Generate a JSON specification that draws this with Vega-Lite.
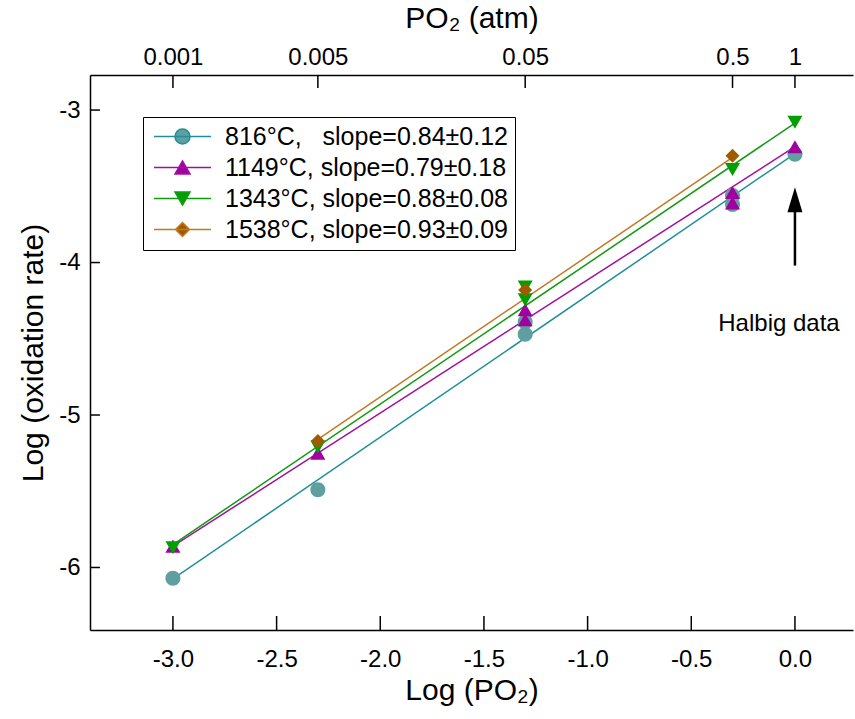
{
  "$schema": "https://vega.github.io/schema/vega-lite/v6.json",
  "width": 763,
  "height": 555,
  "autosize": {"type": "none"},
  "padding": {"left": 90, "top": 75, "right": 2, "bottom": 89},
  "background": "white",
  "config": {
    "view": {"stroke": null},
    "font": "Liberation Sans",
    "axis": {
      "domainColor": "black",
      "domainWidth": 1.5,
      "ticks": false,
      "grid": false,
      "labelColor": "black",
      "titleColor": "black",
      "labelFont": "Liberation Sans",
      "titleFont": "Liberation Sans",
      "labelFontSize": 24,
      "titleFontSize": 30,
      "titleFontWeight": "normal"
    },
    "legend": {
      "labelFont": "Liberation Sans",
      "labelFontSize": 25,
      "labelColor": "black",
      "labelLimit": 1000
    }
  },
  "datasets": {
    "fits": [
      {"series": "816°C,\u2007 slope=0.84±0.12", "logp": -3.0, "rate": -6.075},
      {"series": "816°C,\u2007 slope=0.84±0.12", "logp": 0.0, "rate": -3.285},
      {"series": "1149°C, slope=0.79±0.18", "logp": -3.0, "rate": -5.86},
      {"series": "1149°C, slope=0.79±0.18", "logp": 0.0, "rate": -3.24},
      {"series": "1343°C, slope=0.88±0.08", "logp": -3.0, "rate": -5.85},
      {"series": "1343°C, slope=0.88±0.08", "logp": 0.0, "rate": -3.085},
      {"series": "1538°C, slope=0.93±0.09", "logp": -2.30103, "rate": -5.16},
      {"series": "1538°C, slope=0.93±0.09", "logp": -0.30103, "rate": -3.31}
    ],
    "points": [
      {"series": "816°C,\u2007 slope=0.84±0.12", "logp": -3.0, "rate": -6.07},
      {"series": "816°C,\u2007 slope=0.84±0.12", "logp": -2.30103, "rate": -5.49},
      {"series": "816°C,\u2007 slope=0.84±0.12", "logp": -1.30103, "rate": -4.39},
      {"series": "816°C,\u2007 slope=0.84±0.12", "logp": -1.30103, "rate": -4.47},
      {"series": "816°C,\u2007 slope=0.84±0.12", "logp": -0.30103, "rate": -3.56},
      {"series": "816°C,\u2007 slope=0.84±0.12", "logp": -0.30103, "rate": -3.62},
      {"series": "816°C,\u2007 slope=0.84±0.12", "logp": 0.0, "rate": -3.29},
      {"series": "1149°C, slope=0.79±0.18", "logp": -3.0, "rate": -5.86},
      {"series": "1149°C, slope=0.79±0.18", "logp": -2.30103, "rate": -5.25},
      {"series": "1149°C, slope=0.79±0.18", "logp": -1.30103, "rate": -4.31},
      {"series": "1149°C, slope=0.79±0.18", "logp": -1.30103, "rate": -4.375},
      {"series": "1149°C, slope=0.79±0.18", "logp": -0.30103, "rate": -3.54},
      {"series": "1149°C, slope=0.79±0.18", "logp": -0.30103, "rate": -3.61},
      {"series": "1149°C, slope=0.79±0.18", "logp": 0.0, "rate": -3.24},
      {"series": "1343°C, slope=0.88±0.08", "logp": -3.0, "rate": -5.87},
      {"series": "1343°C, slope=0.88±0.08", "logp": -2.30103, "rate": -5.21},
      {"series": "1343°C, slope=0.88±0.08", "logp": -1.30103, "rate": -4.16},
      {"series": "1343°C, slope=0.88±0.08", "logp": -1.30103, "rate": -4.245},
      {"series": "1343°C, slope=0.88±0.08", "logp": -0.30103, "rate": -3.39},
      {"series": "1343°C, slope=0.88±0.08", "logp": 0.0, "rate": -3.08},
      {"series": "1538°C, slope=0.93±0.09", "logp": -2.30103, "rate": -5.17},
      {"series": "1538°C, slope=0.93±0.09", "logp": -1.30103, "rate": -4.18},
      {"series": "1538°C, slope=0.93±0.09", "logp": -0.30103, "rate": -3.30}
    ],
    "ticks": [
      {"xa": -3.0, "xb": -3.0, "ya": -6.41, "yb": -6.318},
      {"xa": -2.5, "xb": -2.5, "ya": -6.41, "yb": -6.318},
      {"xa": -2.0, "xb": -2.0, "ya": -6.41, "yb": -6.318},
      {"xa": -1.5, "xb": -1.5, "ya": -6.41, "yb": -6.318},
      {"xa": -1.0, "xb": -1.0, "ya": -6.41, "yb": -6.318},
      {"xa": -0.5, "xb": -0.5, "ya": -6.41, "yb": -6.318},
      {"xa": 0.0, "xb": 0.0, "ya": -6.41, "yb": -6.318},
      {"xa": -3.0, "xb": -3.0, "ya": -2.77, "yb": -2.855},
      {"xa": -2.30103, "xb": -2.30103, "ya": -2.77, "yb": -2.855},
      {"xa": -1.30103, "xb": -1.30103, "ya": -2.77, "yb": -2.855},
      {"xa": -0.30103, "xb": -0.30103, "ya": -2.77, "yb": -2.855},
      {"xa": 0.0, "xb": 0.0, "ya": -2.77, "yb": -2.855},
      {"xa": -3.40, "xb": -3.352, "ya": -6.0, "yb": -6.0},
      {"xa": -3.40, "xb": -3.352, "ya": -5.0, "yb": -5.0},
      {"xa": -3.40, "xb": -3.352, "ya": -4.0, "yb": -4.0},
      {"xa": -3.40, "xb": -3.352, "ya": -3.0, "yb": -3.0}
    ],
    "arrow": [{"logp": 0.0, "from": -4.02, "to": -3.66, "tip": -3.588}],
    "note": [{"logp": -0.077, "rate": -4.40, "text": "Halbig data"}]
  },
  "layer": [
    {
      "data": {"name": "fits"},
      "mark": {"type": "line", "strokeWidth": 1.5},
      "encoding": {
        "x": {
          "field": "logp", "type": "quantitative",
          "scale": {"domain": [-3.40, 0.28], "nice": false, "zero": false},
          "axis": {
            "orient": "bottom",
            "values": [-3, -2.5, -2, -1.5, -1, -0.5, 0],
            "labelExpr": "(datum.value < -0.01 ? '-' : '') + format(abs(datum.value), '.1f')",
            "labelPadding": 17,
            "title": "Log (PO₂)",
            "titlePadding": 4
          }
        },
        "y": {
          "field": "rate", "type": "quantitative",
          "scale": {"domain": [-6.41, -2.77], "nice": false, "zero": false},
          "axis": {
            "orient": "left",
            "values": [-6, -5, -4, -3],
            "labelExpr": "'-' + format(abs(datum.value), 'd')",
            "labelPadding": 10,
            "title": "Log (oxidation rate)",
            "titlePadding": 10
          }
        },
        "color": {
          "field": "series", "type": "nominal",
          "scale": {
            "domain": ["816°C,\u2007 slope=0.84±0.12", "1149°C, slope=0.79±0.18", "1343°C, slope=0.88±0.08", "1538°C, slope=0.93±0.09"],
            "range": ["#1f8f9b", "#a010a0", "#109a10", "#c07a22"]
          },
          "legend": {
            "title": null,
            "orient": "none",
            "legendX": 53,
            "legendY": 42,
            "direction": "vertical",
            "padding": 7,
            "rowPadding": 5,
            "strokeColor": "black",
            "fillColor": "white",
            "symbolSize": 225,
            "symbolStrokeWidth": 1.5,
            "symbolOpacity": 1,
            "symbolOffset": 20,
            "labelOffset": 30
          }
        }
      }
    },
    {
      "data": {"name": "points"},
      "mark": {"type": "point", "filled": true, "opacity": 1, "size": 225},
      "encoding": {
        "x": {
          "field": "logp", "type": "quantitative",
          "scale": {"domain": [-3.40, 0.28], "nice": false, "zero": false},
          "axis": {
            "orient": "top",
            "values": [-3, -2.30103, -1.30103, -0.30103, 0],
            "labelExpr": "datum.value < -2.9 ? '0.001' : datum.value < -2 ? '0.005' : datum.value < -1 ? '0.05' : datum.value < -0.1 ? '0.5' : '1'",
            "labelPadding": 6,
            "title": "PO₂ (atm)",
            "titlePadding": 12
          }
        },
        "y": {
          "field": "rate", "type": "quantitative",
          "scale": {"domain": [-6.41, -2.77], "nice": false, "zero": false},
          "axis": {
            "orient": "left",
            "values": [-6, -5, -4, -3],
            "labelExpr": "'-' + format(abs(datum.value), 'd')",
            "labelPadding": 10,
            "title": "Log (oxidation rate)",
            "titlePadding": 10
          }
        },
        "fill": {
          "field": "series", "type": "nominal",
          "scale": {
            "domain": ["816°C,\u2007 slope=0.84±0.12", "1149°C, slope=0.79±0.18", "1343°C, slope=0.88±0.08", "1538°C, slope=0.93±0.09"],
            "range": ["#5f9fa0", "#a000a0", "#00a000", "#a05a00"]
          },
          "legend": null
        },
        "shape": {
          "field": "series", "type": "nominal",
          "scale": {
            "domain": ["816°C,\u2007 slope=0.84±0.12", "1149°C, slope=0.79±0.18", "1343°C, slope=0.88±0.08", "1538°C, slope=0.93±0.09"],
            "range": ["M-1,0A1,1 0 1,0 1,0A1,1 0 1,0 -1,0ZM-3.8,0L3.8,0", "M0,-0.87L1,0.87L-1,0.87ZM-3.8,0L3.8,0", "M0,0.87L1,-0.87L-1,-0.87ZM-3.8,0L3.8,0", "M-0.93,0L0,-0.93L0.93,0L0,0.93ZM-3.8,0L3.8,0"]
          },
          "legend": null
        }
      }
    },
    {
      "data": {"name": "ticks"},
      "mark": {"type": "rule", "color": "black", "strokeWidth": 1.5},
      "encoding": {
        "x": {"field": "xa", "type": "quantitative", "scale": {"domain": [-3.40, 0.28], "nice": false, "zero": false}, "axis": null},
        "x2": {"field": "xb"},
        "y": {"field": "ya", "type": "quantitative", "scale": {"domain": [-6.41, -2.77], "nice": false, "zero": false}},
        "y2": {"field": "yb"}
      }
    },
    {
      "data": {"name": "arrow"},
      "mark": {"type": "rule", "color": "black", "strokeWidth": 2.5},
      "encoding": {
        "x": {"field": "logp", "type": "quantitative", "scale": {"domain": [-3.40, 0.28], "nice": false, "zero": false}, "axis": null},
        "y": {"field": "from", "type": "quantitative", "scale": {"domain": [-6.41, -2.77], "nice": false, "zero": false}},
        "y2": {"field": "to"}
      }
    },
    {
      "data": {"name": "arrow"},
      "mark": {"type": "point", "filled": true, "color": "black", "opacity": 1, "size": 625, "shape": "M0,-1L0.6,1L-0.6,1Z"},
      "encoding": {
        "x": {"field": "logp", "type": "quantitative", "scale": {"domain": [-3.40, 0.28], "nice": false, "zero": false}, "axis": null},
        "y": {"field": "tip", "type": "quantitative", "scale": {"domain": [-6.41, -2.77], "nice": false, "zero": false}}
      }
    },
    {
      "data": {"name": "note"},
      "mark": {"type": "text", "font": "Liberation Sans", "fontSize": 24, "color": "black", "align": "center", "baseline": "middle"},
      "encoding": {
        "x": {"field": "logp", "type": "quantitative", "scale": {"domain": [-3.40, 0.28], "nice": false, "zero": false}, "axis": null},
        "y": {"field": "rate", "type": "quantitative", "scale": {"domain": [-6.41, -2.77], "nice": false, "zero": false}},
        "text": {"field": "text"}
      }
    }
  ]
}
